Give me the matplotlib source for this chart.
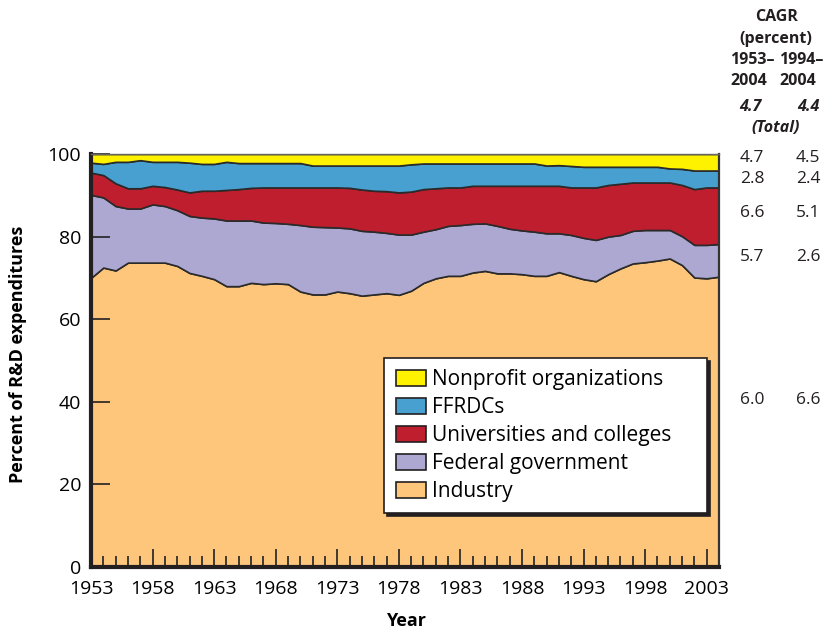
import matplotlib
matplotlib.use("Agg")
import matplotlib.pyplot as plt
from matplotlib.patches import Patch
from matplotlib.ticker import MultipleLocator

plt.rcParams['font.family'] = ['Open Sans', 'DejaVu Sans']

# --- data (share of R&D expenditures, percent) ---
years = list(range(1953, 2005))
industry = [70.0, 72.5, 71.8, 73.7, 73.7, 73.7, 73.7, 72.9, 71.2, 70.5,
            69.7, 68.0, 68.0, 68.8, 68.5, 68.7, 68.5, 66.7, 66.0, 66.0,
            66.7, 66.3, 65.7, 66.0, 66.3, 65.9, 66.9, 68.8, 69.9, 70.5,
            70.5, 71.3, 71.7, 71.1, 71.1, 70.9, 70.5, 70.5, 71.4, 70.5,
            69.7, 69.2, 70.9, 72.3, 73.5, 73.8, 74.2, 74.7, 73.1, 70.1,
            69.9, 70.3]
federal = [20.1, 17.0, 15.6, 13.1, 13.1, 14.1, 13.7, 13.5, 13.8, 14.1,
           14.7, 15.9, 15.9, 15.1, 14.9, 14.6, 14.6, 16.1, 16.4, 16.3,
           15.5, 15.7, 15.7, 15.2, 14.6, 14.6, 13.6, 12.4, 11.9, 12.1,
           12.3, 11.8, 11.5, 11.5, 10.8, 10.6, 10.7, 10.3, 9.4, 9.9,
           10.0, 10.0, 9.1, 8.1, 7.9, 7.8, 7.4, 6.9, 7.0, 7.9,
           8.1, 7.9]
universities = [5.4, 5.4, 5.5, 4.9, 4.9, 4.5, 4.6, 5.0, 5.7, 6.5,
                6.7, 7.4, 7.6, 7.9, 8.5, 8.6, 8.8, 9.1, 9.5, 9.6,
                9.7, 9.8, 10.0, 9.9, 10.1, 10.2, 10.4, 10.3, 9.9, 9.3,
                9.1, 9.2, 9.1, 9.7, 10.4, 10.8, 11.1, 11.5, 11.5, 11.5,
                12.2, 12.7, 12.5, 12.4, 11.7, 11.5, 11.5, 11.5, 12.4, 13.5,
                13.9, 13.7]
ffrdcs = [2.4, 2.7, 5.2, 6.4, 6.8, 5.8, 6.1, 6.7, 7.2, 6.5,
          6.5, 6.8, 6.3, 6.0, 5.9, 5.9, 5.9, 5.9, 5.3, 5.3,
          5.3, 5.4, 5.8, 6.1, 6.2, 6.5, 6.6, 6.2, 6.0, 5.8,
          5.8, 5.4, 5.4, 5.4, 5.4, 5.4, 5.4, 4.9, 5.0, 5.2,
          5.0, 5.0, 4.4, 4.1, 3.8, 3.8, 3.8, 3.4, 3.9, 4.5,
          4.1, 4.1]
nonprofit = [2.1, 2.4, 1.9, 1.9, 1.5, 1.9, 1.9, 1.9, 2.1, 2.4,
             2.4, 1.9, 2.2, 2.2, 2.2, 2.2, 2.2, 2.2, 2.8, 2.8,
             2.8, 2.8, 2.8, 2.8, 2.8, 2.8, 2.5, 2.3, 2.3, 2.3,
             2.3, 2.3, 2.3, 2.3, 2.3, 2.3, 2.3, 2.8, 2.7, 2.9,
             3.1, 3.1, 3.1, 3.1, 3.1, 3.1, 3.1, 3.5, 3.6, 4.0,
             4.0, 4.0]

labels = ["Industry", "Federal government", "Universities and colleges",
          "FFRDCs", "Nonprofit organizations"]
colors = ["#fdc67b", "#aca8d1", "#be1e2d", "#47a0cf", "#fff200"]

# CAGR table on the right (1953-2004, 1994-2004), top row first
cagr_long = ["4.7", "2.8", "6.6", "5.7", "6.0"]
cagr_short = ["4.5", "2.4", "5.1", "2.6", "6.6"]
cagr_rows_y = [158, 179, 213, 257, 400]   # pixel rows
total_long, total_short = "4.7", "4.4"

# --- figure ---
fig = plt.figure(figsize=(8.34, 6.32), dpi=100)
ax = fig.add_axes([91 / 834, 1 - 567 / 632, 628 / 834, 413 / 632])

ax.stackplot(years, industry, federal, universities, ffrdcs, nonprofit,
             colors=colors, edgecolor="#2a2a2a", linewidth=1.2)

ax.set_xlim(1953, 2004)
ax.set_ylim(0, 100)
ax.set_xticks(range(1953, 2004, 5))
ax.xaxis.set_minor_locator(MultipleLocator(1))
ax.set_yticks(range(0, 101, 20))
ax.tick_params(axis='x', which='major', direction='in', length=13,
               width=1.2, pad=9, labelsize=14, color="#222222")
ax.tick_params(axis='x', which='minor', direction='in', length=8,
               width=1.2, color="#222222")
ax.tick_params(axis='y', direction='in', length=14, width=1.2, pad=7,
               labelsize=14, color="#222222")

for side in ['left', 'bottom']:
    ax.spines[side].set_linewidth(3)
    ax.spines[side].set_color("#231f20")
ax.spines['top'].set_linewidth(1)
ax.spines['top'].set_color("#666666")
ax.spines['right'].set_linewidth(1.6)
ax.spines['right'].set_color("#333333")

ax.set_ylabel("Percent of R&D expenditures", fontsize=13, fontweight='bold')
ax.yaxis.set_label_coords(-0.102, 0.516)
ax.set_xlabel("Year", fontsize=13, fontweight='bold')
ax.xaxis.set_label_coords(0.502, -0.108)

# legend, top entry first; box stretched to the reference width
handles = [Patch(facecolor=c, edgecolor="#231f20", linewidth=1.2)
           for c in colors]
leg = ax.legend(handles[::-1], labels[::-1], loc='upper left',
                bbox_to_anchor=(0.467, 0.133, 0.514, 0.373), mode='expand',
                borderaxespad=0, fontsize=15, fancybox=False,
                shadow={'color': '#231f20', 'alpha': 1},
                framealpha=1, edgecolor="#231f20", handlelength=1.45,
                handleheight=0.8, labelspacing=0.33, handletextpad=0.3,
                borderpad=0.55)
leg.get_frame().set_linewidth(1.2)

# right-hand CAGR table
def px(x, y):
    return x / 834, 1 - y / 632

hdr = dict(fontsize=11.5, fontweight='bold', color="#231f20", va='center')
fig.text(*px(777, 17), "CAGR", ha='center', **hdr)
fig.text(*px(776, 39), "(percent)", ha='center', **hdr)
fig.text(*px(730, 60), "1953–", ha='left', **hdr)
fig.text(*px(779, 60), "1994–", ha='left', **hdr)
fig.text(*px(730, 81), "2004", ha='left', **hdr)
fig.text(*px(779, 81), "2004", ha='left', **hdr)
fig.text(*px(750, 107), total_long, ha='center', style='italic', **hdr)
fig.text(*px(808, 107), total_short, ha='center', style='italic', **hdr)
fig.text(*px(776, 128), "(Total)", ha='center', style='italic', **hdr)

for a, b, y in zip(cagr_long, cagr_short, cagr_rows_y):
    fig.text(*px(752, y), a, ha='center', va='center', fontsize=12.5,
             color="#231f20")
    fig.text(*px(808, y), b, ha='center', va='center', fontsize=12.5,
             color="#231f20")

fig.savefig("out.png", dpi=100)
